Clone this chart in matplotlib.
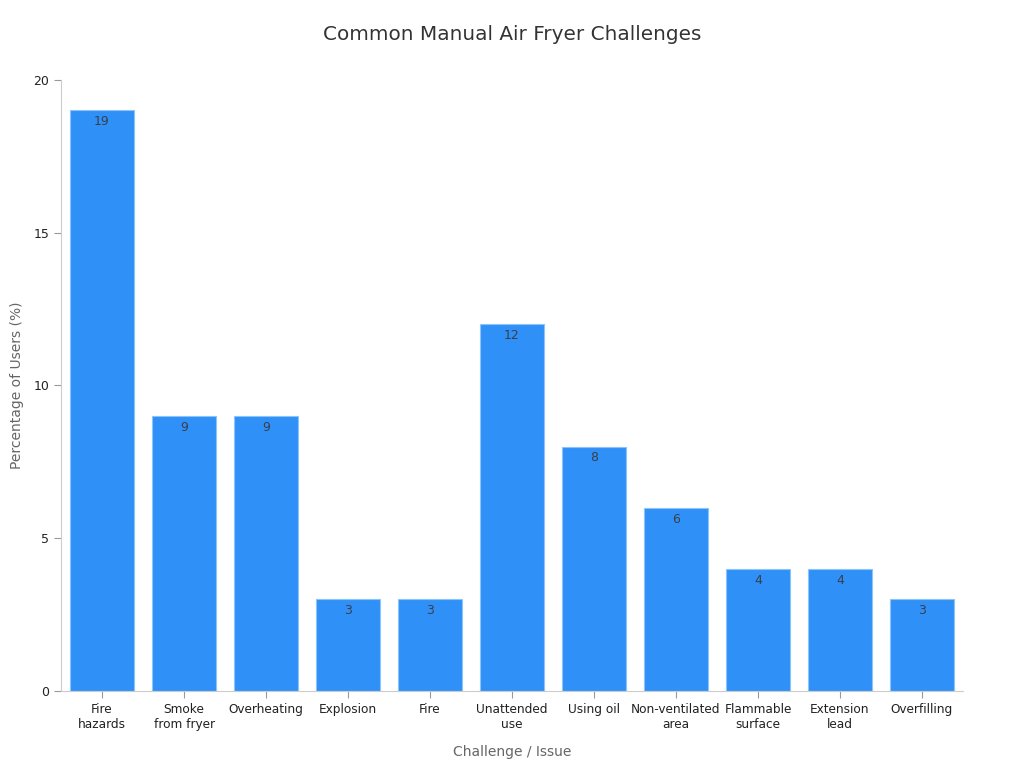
import matplotlib
matplotlib.use("Agg")
import matplotlib.pyplot as plt

categories = ["Fire\nhazards", "Smoke\nfrom fryer", "Overheating", "Explosion", "Fire",
              "Unattended\nuse", "Using oil", "Non-ventilated\narea", "Flammable\nsurface",
              "Extension\nlead", "Overfilling"]
values = [19, 9, 9, 3, 3, 12, 8, 6, 4, 4, 3]
yticks = [0, 5, 10, 15, 20]

plt.rcParams['font.family'] = ['DejaVu Sans']
fig = plt.figure(figsize=(10.24, 7.68), dpi=100)
ax = fig.add_axes([0.0596, 0.1003, 0.8808, 0.7957])

x = list(range(len(categories)))
bars = ax.bar(x, values, width=0.79, color='#2f91f7', edgecolor='#8cc4fa', linewidth=0.8)
for xi, v in zip(x, values):
    ax.annotate(str(v), (xi, v), xytext=(0, -3.5), textcoords='offset points',
                ha='center', va='top', fontsize=9, color='#3a3f4a')

ax.set_xlim(-0.5, 10.5)
ax.set_ylim(0, 20)
ax.set_yticks(yticks)
ax.set_xticks(x)
ax.set_xticklabels(categories, fontsize=8.7, color='#222222')
ax.tick_params(axis='y', labelsize=9, labelcolor='#222222', color='#999999', length=5)
ax.tick_params(axis='x', color='#999999', length=5)
for s in ['top', 'right']:
    ax.spines[s].set_visible(False)
for s in ['left', 'bottom']:
    ax.spines[s].set_color('#cccccc')
ax.set_xlabel("Challenge / Issue", fontsize=10, color='#666666', labelpad=10)
ax.set_ylabel("Percentage of Users (%)", fontsize=10, color='#666666', labelpad=7)
fig.suptitle("Common Manual Air Fryer Challenges", fontsize=14.4, color='#333333', y=0.968)

fig.savefig("out.png", dpi=100)
